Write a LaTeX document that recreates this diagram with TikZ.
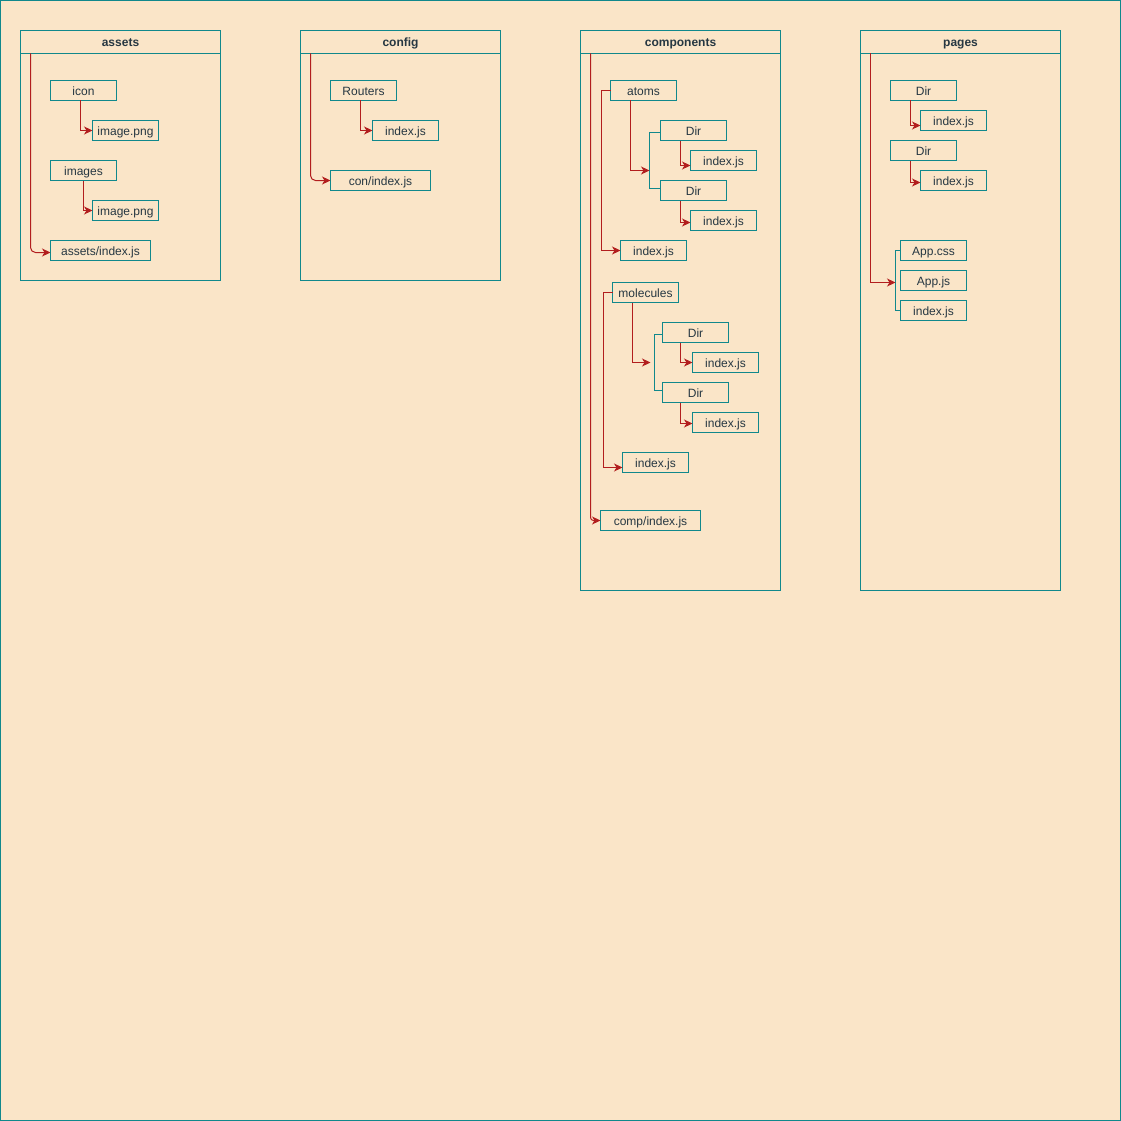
\documentclass[tikz,border=0pt]{standalone}
\usepackage{fontspec}
\setmainfont{Liberation Sans}
\usetikzlibrary{arrows.meta,calc}
\definecolor{bgc}{RGB}{250,229,200}
\definecolor{tealc}{RGB}{16,136,140}
\definecolor{redc}{RGB}{178,30,30}
\definecolor{txtc}{RGB}{38,55,66}
\tikzset{
  fbox/.style={draw=tealc,line width=1pt,inner sep=0pt,outer sep=0pt,minimum height=20pt,text height=11.5pt,text depth=2pt,text=txtc,font=\fontsize{12}{14}\selectfont,anchor=north west},
  frame/.style={draw=tealc,line width=1pt,inner sep=0pt,outer sep=0pt,minimum width=200pt,anchor=north west},
  hdr/.style={draw=tealc,line width=1pt,inner sep=0pt,outer sep=0pt,minimum width=200pt,minimum height=23pt,text height=11.5pt,text depth=2pt,text=txtc,font=\fontsize{12}{14}\selectfont\bfseries,anchor=north west},
  redarr/.style={draw=redc,line width=1pt,-{Stealth[length=8.5pt,width=8pt,inset=2.5pt]}},
  tealln/.style={draw=tealc,line width=1pt}
}
\begin{document}
\begin{tikzpicture}[x=1pt,y=-1pt]
\useasboundingbox (0,0) rectangle (1121,1121);
\fill[bgc] (0,0) rectangle (1121,1121);
\draw[tealc,line width=1pt] (0.5,0.5) rectangle (1120.5,1120.5);
\begin{scope}[shift={(0.5,0.5)}]
% ---------- assets
\node[frame,minimum height=250pt] (aF) at (20,30) {};
\node[hdr] (aH) at (20,30) {assets};
\node[fbox,minimum width=66pt] (icon) at (50,80) {icon};
\node[fbox,minimum width=66pt] (img1) at (92,120) {image.png};
\node[fbox,minimum width=66pt] (images) at (50,160) {images};
\node[fbox,minimum width=66pt] (img2) at (92,200) {image.png};
\node[fbox,minimum width=100pt] (aIdx) at (50,240) {assets/index.js};
\draw[redarr] ([xshift=-3pt]icon.south) |- (img1.west);
\draw[redarr] (images.south) |- (img2.west);
\draw[redarr,rounded corners=5pt] ([xshift=10pt]aH.south west) |- ([yshift=-2pt]aIdx.west);

% ---------- config
\node[frame,minimum height=250pt] (cF) at (300,30) {};
\node[hdr] (cH) at (300,30) {config};
\node[fbox,minimum width=66pt] (routers) at (330,80) {Routers};
\node[fbox,minimum width=66pt] (cI1) at (372,120) {index.js};
\node[fbox,minimum width=100pt] (cIdx) at (330,170) {con/index.js};
\draw[redarr] ([xshift=-3pt]routers.south) |- (cI1.west);
\draw[redarr,rounded corners=5pt] ([xshift=10pt]cH.south west) |- (cIdx.west);

% ---------- components
\node[frame,minimum height=560pt] (kF) at (580,30) {};
\node[hdr] (kH) at (580,30) {components};
\node[fbox,minimum width=66pt] (atoms) at (610,80) {atoms};
\node[fbox,minimum width=66pt] (ad1) at (660,120) {Dir};
\node[fbox,minimum width=66pt] (ai1) at (690,150) {index.js};
\node[fbox,minimum width=66pt] (ad2) at (660,180) {Dir};
\node[fbox,minimum width=66pt] (ai2) at (690,210) {index.js};
\node[fbox,minimum width=66pt] (aidx) at (620,240) {index.js};
\coordinate (aJ) at (649,170);
\draw[tealln] (ad1.west) ++(0,2) -- ++(-11,0) |- ([yshift=2pt]ad2.west);
\draw[redarr] ([xshift=-13pt]atoms.south) |- (aJ);
\draw[redarr] ([xshift=-13pt]ad1.south) |- ([yshift=-5pt]ai1.west);
\draw[redarr] ([xshift=-13pt]ad2.south) |- ([yshift=-2pt]ai2.west);
\draw[redarr] (atoms.west) -- ++(-9,0) |- (aidx.west);

\node[fbox,minimum width=66pt] (mol) at (612,282) {molecules};
\node[fbox,minimum width=66pt] (md1) at (662,322) {Dir};
\node[fbox,minimum width=66pt] (mi1) at (692,352) {index.js};
\node[fbox,minimum width=66pt] (md2) at (662,382) {Dir};
\node[fbox,minimum width=66pt] (mi2) at (692,412) {index.js};
\node[fbox,minimum width=66pt] (midx) at (622,452) {index.js};
\coordinate (mJ) at (650,362);
\draw[tealln] ([yshift=-2pt]md1.west) -- ++(-8,0) |- ([yshift=2pt]md2.west);
\draw[redarr] ([xshift=-13pt]mol.south) |- (mJ);
\draw[redarr] ([xshift=-15pt]md1.south) |- (mi1.west);
\draw[redarr] ([xshift=-15pt]md2.south) |- ([yshift=-1pt]mi2.west);
\draw[redarr] (mol.west) -- ++(-9,0) |- ([yshift=-5pt]midx.west);

\node[fbox,minimum width=100pt] (kIdx) at (600,510) {comp/index.js};
\draw[redarr,rounded corners=3pt] ([xshift=10pt]kH.south west) |- (kIdx.west);

% ---------- pages
\node[frame,minimum height=560pt] (pF) at (860,30) {};
\node[hdr] (pH) at (860,30) {pages};
\node[fbox,minimum width=66pt] (pd1) at (890,80) {Dir};
\node[fbox,minimum width=66pt] (pi1) at (920,110) {index.js};
\node[fbox,minimum width=66pt] (pd2) at (890,140) {Dir};
\node[fbox,minimum width=66pt] (pi2) at (920,170) {index.js};
\node[fbox,minimum width=66pt] (pcss) at (900,240) {App.css};
\node[fbox,minimum width=66pt] (pjs) at (900,270) {App.js};
\node[fbox,minimum width=66pt] (pidx) at (900,300) {index.js};
\draw[redarr] ([xshift=-13pt]pd1.south) |- ([yshift=-5pt]pi1.west);
\draw[redarr] ([xshift=-13pt]pd2.south) |- ([yshift=-2pt]pi2.west);
\coordinate (pJ) at (895,282);
\draw[tealln] (pcss.west) -- ++(-5,0) |- (pidx.west);
\draw[redarr] ([xshift=10pt]pH.south west) |- (pJ);
\end{scope}
\end{tikzpicture}
\end{document}
